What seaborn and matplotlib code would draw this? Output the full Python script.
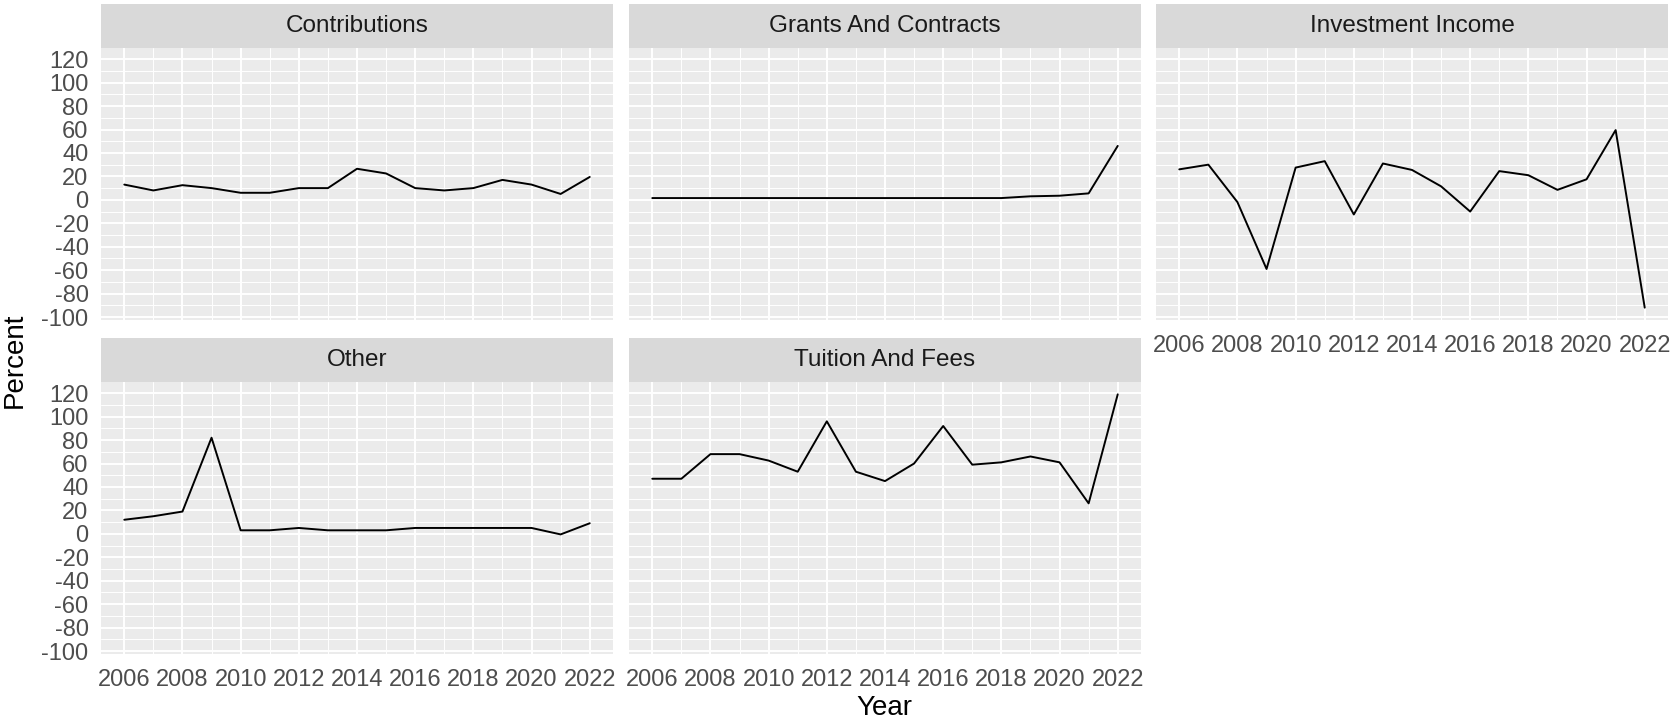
import matplotlib
matplotlib.use("Agg")
import matplotlib.pyplot as plt
import pandas as pd
import seaborn as sns
from matplotlib.patches import Rectangle
from matplotlib.ticker import MultipleLocator

years = list(range(2006, 2023))
categories = ["Contributions", "Grants And Contracts", "Investment Income", "Other", "Tuition And Fees"]

contributions = [13, 8, 12.5, 10, 6, 6, 10, 10, 26.5, 22.5, 10, 8, 10, 17, 13, 5, 19.5]
grants = [1.5, 1.5, 1.5, 1.5, 1.5, 1.5, 1.5, 1.5, 1.5, 1.5, 1.5, 1.5, 1.5, 3, 3.5, 5.5, 46]
investment = [26, 30, -2, -59, 27.5, 33, -12.5, 31, 25.5, 11.5, -10, 24.5, 21, 8.5, 17.5, 59.5, -92]
other = [12, 15, 19, 82, 3, 3, 5, 3, 3, 3, 5, 5, 5, 5, 5, -0.5, 9]
tuition = [47, 47, 68, 68, 62.5, 53, 96, 53, 45, 60, 92, 59, 61, 66, 61, 26, 119]

series = [contributions, grants, investment, other, tuition]
df = pd.DataFrame({
    "Year": years * len(categories),
    "Percent": [v for s in series for v in s],
    "Category": [c for c in categories for _ in years],
})

sns.set_style("darkgrid")
plt.rcParams["font.family"] = ["Liberation Sans", "DejaVu Sans"]
plt.rcParams["axes.unicode_minus"] = False

W, H = 1671, 719
fig = plt.figure(figsize=(W / 100, H / 100), dpi=100)
fig.patch.set_facecolor("white")

col_left = [101, 629, 1156]
row_top = [48, 382]
pw, ph = 512, 272
strip_h = 44

ymin, ymax = df["Percent"].min(), df["Percent"].max()
pad = 0.05 * (ymax - ymin)

for i, cat in enumerate(categories):
    r, c = divmod(i, 3)
    ax = fig.add_axes([col_left[c] / W, 1 - (row_top[r] + ph) / H, pw / W, ph / H])
    sns.lineplot(data=df[df["Category"] == cat], x="Year", y="Percent", ax=ax,
                 color="black", linewidth=1.4)
    ax.set_facecolor("#EBEBEB")
    ax.set_xlim(2006 - 0.8, 2022 + 0.8)
    ax.set_ylim(ymin - pad, ymax + pad)
    ax.xaxis.set_major_locator(MultipleLocator(2))
    ax.xaxis.set_minor_locator(MultipleLocator(1))
    ax.yaxis.set_major_locator(MultipleLocator(20))
    ax.yaxis.set_minor_locator(MultipleLocator(10))
    ax.grid(which="minor", color="white", linewidth=0.7)
    ax.grid(which="major", color="white", linewidth=1.4)
    ax.set_axisbelow(True)
    for s in ax.spines.values():
        s.set_visible(False)
    ax.set_xlabel("")
    ax.set_ylabel("")

    show_x = r == 1 or c == 2
    show_y = c == 0
    ax.tick_params(which="minor", length=0)
    ax.tick_params(axis="x", which="major", length=5 if show_x else 0, width=1.3,
                   color="#333333", labelbottom=show_x, labelsize=17,
                   labelcolor="#4D4D4D", pad=6)
    ax.tick_params(axis="y", which="major", length=5 if show_y else 0, width=1.3,
                   color="#333333", labelleft=show_y, labelsize=17,
                   labelcolor="#4D4D4D", pad=4)

    # facet strip
    ax.add_patch(Rectangle((0, 1), 1, strip_h / ph, transform=ax.transAxes,
                           clip_on=False, facecolor="#D9D9D9", edgecolor="none"))
    ax.text(0.5, 1 + strip_h / ph / 2, cat, transform=ax.transAxes, ha="center",
            va="center", fontsize=17.5, color="#1A1A1A")

fig.text((101 + 1668) / 2 / W, 1 - 708 / H, "Year", ha="center", va="center",
         fontsize=20, color="black")
fig.text(15 / W, 1 - 360 / H, "Percent", ha="center", va="center", rotation=90,
         fontsize=20, color="black")

fig.savefig("out.png", dpi=100)
